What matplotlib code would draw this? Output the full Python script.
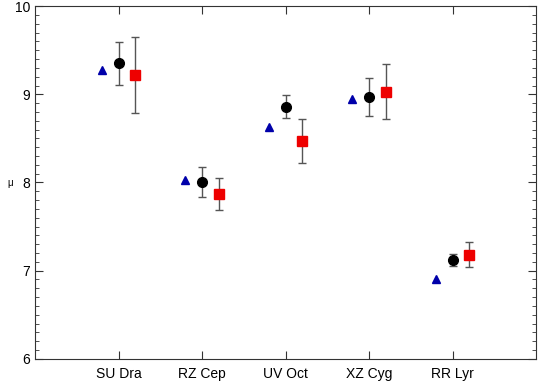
import numpy as np
import matplotlib
matplotlib.use("Agg")
import matplotlib.pyplot as plt
from matplotlib.ticker import MultipleLocator

plt.rcParams["font.family"] = ["Liberation Sans", "DejaVu Sans"]

stars = ["SU Dra", "RZ Cep", "UV Oct", "XZ Cyg", "RR Lyr"]

# triangles (no error bars)
mu_tri = [9.28, 8.03, 8.63, 8.95, 6.90]

# circles with errors
mu_circ = [9.35, 8.01, 8.86, 8.97, 7.12]
err_circ = [0.24, 0.17, 0.13, 0.22, 0.07]

# squares with errors
mu_sq = [9.22, 7.87, 8.47, 9.03, 7.18]
err_sq = [0.43, 0.18, 0.245, 0.31, 0.14]

x = np.arange(1, len(stars) + 1)

fig = plt.figure(figsize=(5.41, 3.85), dpi=100)
ax = fig.add_axes([0.065, 0.068, 0.926, 0.916])

ax.errorbar(x, mu_circ, yerr=err_circ, fmt="o", color="black",
            ecolor="#555555", elinewidth=1, capsize=3, markersize=7)
ax.errorbar(x + 0.2, mu_sq, yerr=err_sq, fmt="s", color="#ee0000",
            ecolor="#555555", elinewidth=1, capsize=3, markersize=7)
ax.plot(x - 0.2, mu_tri, "^", color="#0000aa", markersize=6)

ax.set_xlim(0, 6)
ax.set_ylim(6, 10)
ax.set_xticks(x)
ax.set_xticklabels(stars)
ax.yaxis.set_major_locator(MultipleLocator(1))
ax.yaxis.set_minor_locator(MultipleLocator(0.1))

ax.tick_params(axis="both", which="both", direction="in",
               top=True, right=True, labelsize=10, color="#333333")
ax.tick_params(axis="both", which="major", length=6)
ax.tick_params(axis="y", which="minor", length=3)
ax.tick_params(axis="x", pad=6)

for s in ax.spines.values():
    s.set_color("#333333")

ax.set_ylabel("μ", fontsize=7, rotation=0)
ax.yaxis.set_label_coords(-0.05, 0.485)

fig.savefig("out.png", dpi=100)
